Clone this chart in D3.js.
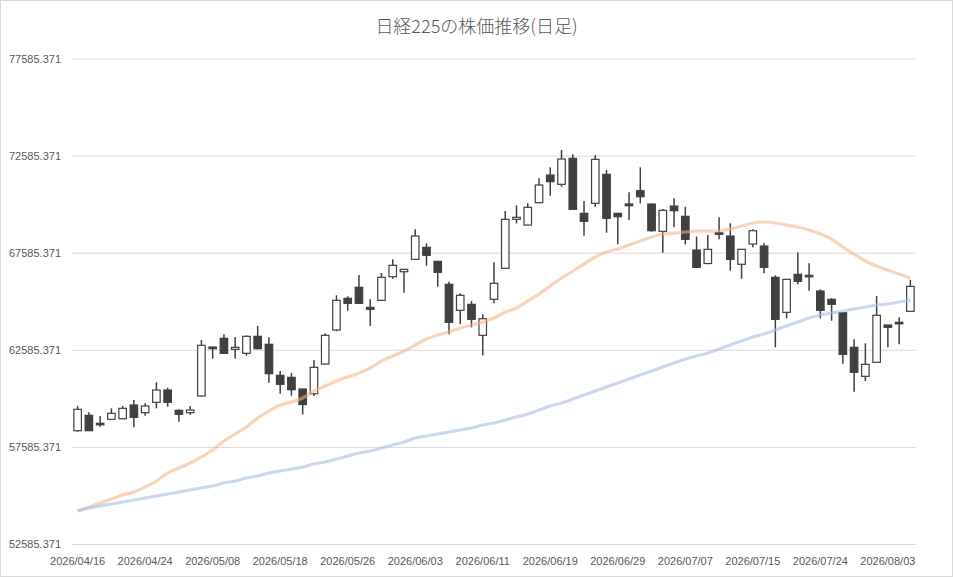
<!DOCTYPE html>
<html>
<head>
<meta charset="utf-8">
<script src="https://cdn.jsdelivr.net/npm/d3@7"></script>
<style>
  body { margin: 0; background: #fff; }
  svg { display: block; }
</style>
</head>
<body>
<script>
// chart size
var width = 953;
var height = 577;

// trading days
var dates = [
  "04/16","04/17","04/20","04/21","04/22","04/23","04/24","04/27","04/28","04/30",
  "05/01","05/07","05/08","05/11","05/12","05/13","05/14","05/15","05/18","05/19",
  "05/20","05/21","05/22","05/25","05/26","05/27","05/28","05/29","06/01","06/02",
  "06/03","06/04","06/05","06/08","06/09","06/10","06/11","06/12","06/15","06/16",
  "06/17","06/18","06/19","06/22","06/23","06/24","06/25","06/26","06/29","06/30",
  "07/01","07/02","07/03","07/06","07/07","07/08","07/09","07/10","07/13","07/14",
  "07/15","07/16","07/17","07/21","07/22","07/23","07/24","07/27","07/28","07/29",
  "07/30","07/31","08/03","08/04","08/05"
].map(function (d) { return "2026/" + d; });

// OHLC
var open = [
  58419,59212,58800,59006,59037,59742,59346,59881,60514,59469,
  59346,60206,62729,63177,62610,62404,63279,62868,61271,61168,
  60566,60324,61853,63604,65236,65802,64773,65133,66348,66606,
  67244,67862,67141,65957,64618,64927,63331,65185,66781,69304,
  69010,70159,71585,71106,72445,69613,70128,71621,69613,70092,
  70776,70092,68686,69989,69458,67723,67028,68614,68444,66990,
  68032,67929,66317,64515,66472,66420,65612,65185,64495,62713,
  61220,61941,63861,64000,64567
];
var high = [
  59691,59366,59176,59572,59691,60000,59830,60911,60633,59521,
  59691,63089,62745,63382,63243,63331,63810,63228,61493,61390,
  60590,62059,63434,65391,65339,66436,65185,66539,67244,66750,
  68789,68068,67160,66091,65493,65097,64412,67090,69731,70025,
  70128,71415,71981,72872,72651,70246,72615,71842,69630,70694,
  71981,70110,69834,70385,69953,68418,68495,69407,69098,67780,
  68789,68068,66420,66230,67605,67038,65699,65236,64531,63125,
  62919,65355,63880,64258,66178
];
var low = [
  58367,58403,58625,58990,59006,58594,59191,59572,59655,58882,
  59243,60170,62126,62368,62126,62281,62620,60890,60324,60221,
  59253,60206,61817,63537,64598,64960,63810,65110,66245,65524,
  67230,66915,65834,63382,63897,63743,62301,64979,66760,69098,
  68990,70128,70519,70982,69800,68459,69953,68614,68017,69268,
  70128,68665,67584,68892,68017,66810,66990,68274,66657,66245,
  67862,66523,62713,64206,65957,65627,64206,64083,61869,60427,
  60978,61920,62713,62868,64550
];
var close = [
  59521,58419,58748,59315,59572,59109,59691,60514,59881,59263,
  59485,62816,62641,62404,62713,63279,62641,61354,60808,60530,
  59768,61683,63331,65133,64979,64979,64670,66317,66935,66729,
  68444,67450,66575,64000,65391,64155,64186,66009,69304,69407,
  69922,71070,71240,72409,69819,69201,72393,69355,69438,70004,
  70467,68717,69767,69747,68274,66832,67759,68532,67244,67759,
  68717,66832,64155,66214,66111,66348,64618,64927,62353,61426,
  61838,64361,63743,63949,65854
];

// moving averages (orange / blue lines)
var maShort = [
  54284,54490,54696,54902,55108,55262,55520,55829,56241,56498,
  56756,57065,57425,57888,58249,58609,59073,59433,59742,59897,
  60103,60463,60720,60978,61184,61390,61647,62008,62265,62523,
  62832,63140,63346,63501,63707,63861,64016,64222,64531,64737,
  65097,65458,65869,66281,66642,67002,67363,67620,67775,67981,
  68186,68392,68547,68598,68650,68701,68701,68701,68804,68959,
  69113,69165,69113,69010,68907,68753,68547,68289,67878,67517,
  67157,66899,66693,66487,66281
];
var maLong = [
  54284,54439,54542,54645,54748,54851,54954,55057,55160,55262,
  55365,55468,55571,55726,55829,55983,56086,56241,56344,56447,
  56550,56704,56807,56962,57116,57271,57374,57528,57683,57837,
  58043,58146,58249,58352,58455,58558,58712,58815,58970,59124,
  59279,59485,59691,59845,60051,60257,60463,60669,60875,61081,
  61287,61493,61699,61905,62111,62265,62420,62626,62832,63037,
  63243,63398,63604,63810,64016,64222,64376,64479,64582,64685,
  64788,64891,64943,65046,65149
];

var yTicks = [52585.371, 57585.371, 62585.371, 67585.371, 72585.371, 77585.371];
var xTicks = dates.filter(function (d, i) { return i % 6 === 0; });

var plotLeft = 72, plotRight = 916, plotTop = 58.5, plotBottom = 544;

var svg = d3.select("body").append("svg")
  .attr("width", width)
  .attr("height", height);

// chart border
svg.append("rect")
  .attr("x", 0.5).attr("y", 0.5)
  .attr("width", width - 1).attr("height", height - 1)
  .attr("fill", "#fff")
  .attr("stroke", "#d9d9d9");

var x = d3.scaleBand()
  .domain(dates)
  .range([plotLeft, plotRight]);

var y = d3.scaleLinear()
  .domain([yTicks[0], yTicks[yTicks.length - 1]])
  .range([plotBottom, plotTop]);

function cx(d) { return x(d) + x.bandwidth() / 2; }

// y axis with gridlines
var yAxis = svg.append("g")
  .attr("transform", "translate(" + plotLeft + ",0)")
  .call(d3.axisLeft(y)
    .tickValues(yTicks)
    .tickFormat(d3.format(".3f"))
    .tickSize(-(plotRight - plotLeft))
    .tickPadding(11));
yAxis.select(".domain").remove();
yAxis.selectAll("line").attr("stroke", "#d9d9d9");
yAxis.selectAll("text")
  .attr("fill", "#595959")
  .style("font-family", "'Liberation Sans', Arial, sans-serif")
  .style("font-size", "11px");

// x axis
var xAxis = svg.append("g")
  .attr("transform", "translate(0," + plotBottom + ")")
  .call(d3.axisBottom(x)
    .tickValues(xTicks)
    .tickSize(0)
    .tickPadding(13));
xAxis.select(".domain").remove();
xAxis.selectAll("text")
  .attr("fill", "#595959")
  .style("font-family", "'Liberation Sans', Arial, sans-serif")
  .style("font-size", "11px");

// candles
var candles = svg.append("g").selectAll("g")
  .data(dates)
  .enter().append("g");

candles.append("line")
  .attr("x1", function (d) { return cx(d); })
  .attr("x2", function (d) { return cx(d); })
  .attr("y1", function (d, i) { return y(high[i]); })
  .attr("y2", function (d, i) { return y(low[i]); })
  .attr("stroke", "#404040")
  .attr("stroke-width", 1.5);

var bodyW = 7.5;
candles.append("rect")
  .attr("x", function (d) { return cx(d) - bodyW / 2; })
  .attr("width", bodyW)
  .attr("y", function (d, i) { return y(Math.max(open[i], close[i])); })
  .attr("height", function (d, i) {
    return Math.max(1.5, Math.abs(y(open[i]) - y(close[i])));
  })
  .attr("fill", function (d, i) { return close[i] >= open[i] ? "#ffffff" : "#404040"; })
  .attr("stroke", "#404040")
  .attr("stroke-width", 1.2);

// moving average lines
var line = d3.line()
  .x(function (d, i) { return cx(dates[i]); })
  .y(function (d) { return y(d); })
  .curve(d3.curveMonotoneX);

svg.append("path")
  .datum(maShort)
  .attr("d", line)
  .attr("fill", "none")
  .attr("stroke", "#f4b183")
  .attr("stroke-opacity", 0.55)
  .attr("stroke-width", 3.2);

svg.append("path")
  .datum(maLong)
  .attr("d", line)
  .attr("fill", "none")
  .attr("stroke", "#a9bde6")
  .attr("stroke-opacity", 0.6)
  .attr("stroke-width", 3.2);

// title
svg.append("text")
  .attr("x", width / 2)
  .attr("y", 33)
  .attr("text-anchor", "middle")
  .attr("fill", "#595959")
  .style("font-family", "'Noto Sans CJK JP', sans-serif")
  .style("font-size", "18px")
  .style("font-weight", 300)
  .text("日経225の株価推移(日足)");
</script>
</body>
</html>
